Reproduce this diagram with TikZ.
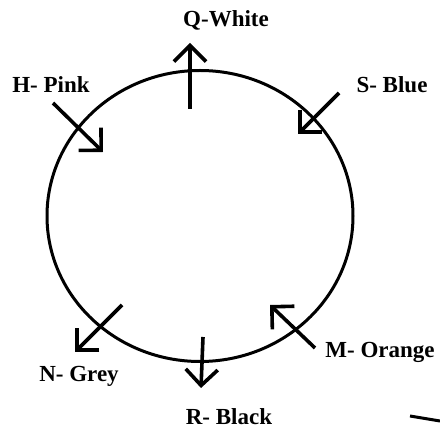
\documentclass[tikz,border=0pt]{standalone}
\usepackage{fontspec}
\setmainfont{Liberation Serif}
\usepackage{tikz}
\usetikzlibrary{arrows.meta, shapes.geometric}

\begin{document}
\begin{tikzpicture}[
            x=1pt, y=-1pt,
            font=\fontsize{23}{26}\selectfont\bfseries,
            % Styles
            ring/.style={
                ellipse, draw=black, line width=3pt, minimum width=306pt, minimum height=291pt, inner sep=0pt
            },
            pointer/.style={
                line width=3.6pt, -{Straight Barb[length=16pt, width=32pt]}
            },
            colour/.style={
                anchor=base, inner sep=0pt
            }
        ]

            \useasboundingbox (0,0) rectangle (440,430);

            % --- Nodes ---

            % 1. Circle
            \node[ring] (circ) at (200,216) {};

            % 2. Labels
            \node[colour] (q) at (226,27) {Q-White};
            \node[colour] (h) at (51,93) {H- Pink};
            \node[colour] (s) at (392,93) {S- Blue};
            \node[colour] (m) at (380,358) {M- Orange};
            \node[colour] (n) at (79,382) {N- Grey};
            \node[colour] (r) at (229,425) {R- Black};

            % 3. Arrow ends
            \coordinate (q-tail) at (190,109);  \coordinate (q-tip) at (190,43);
            \coordinate (h-tail) at (53,103);   \coordinate (h-tip) at (103,152);
            \coordinate (s-tail) at (339,93);   \coordinate (s-tip) at (298,134);
            \coordinate (m-tail) at (315,348);  \coordinate (m-tip) at (270,305);
            \coordinate (n-tail) at (122,305);  \coordinate (n-tip) at (75,352);
            \coordinate (r-tail) at (203,337);  \coordinate (r-tip) at (201,388);
            \coordinate (edge-a) at (410,416);  \coordinate (edge-b) at (440,421);

            % --- Arrows ---
            \draw[pointer] (q-tail) -- (q-tip);
            \draw[pointer] (h-tail) -- (h-tip);
            \draw[pointer] (s-tail) -- (s-tip);
            \draw[pointer] (m-tail) -- (m-tip);
            \draw[pointer] (n-tail) -- (n-tip);
            \draw[pointer] (r-tail) -- (r-tip);

            % stray mark at the corner
            \draw[line width=3pt] (edge-a) -- (edge-b);

        \end{tikzpicture}
\end{document}
